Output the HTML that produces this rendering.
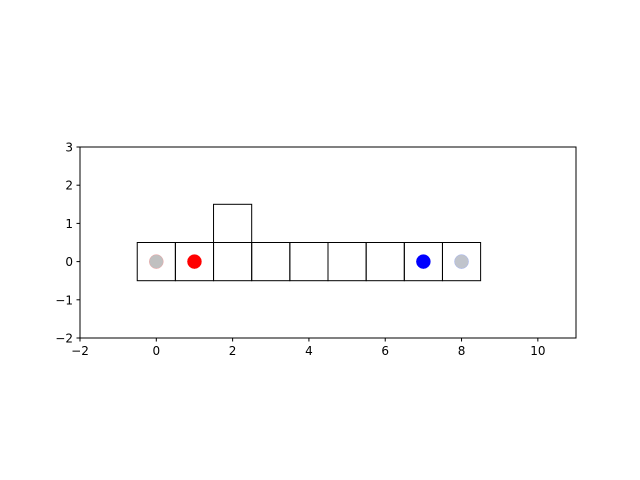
<!DOCTYPE html>
<html><head><meta charset="utf-8"><style>body{margin:0;background:#fff}svg{display:block;font-family:"DejaVu Sans","Liberation Sans",sans-serif}</style></head>
<body>
<svg id="chart" width="640" height="480" xmlns="http://www.w3.org/2000/svg"></svg>
<script>
const cellsX = [0,1,2,3,4,5,6,7,8,2];
const cellsY = [0,0,0,0,0,0,0,0,0,1];
const pointsX = [0,1,7,8];
const pointsY = [0,0,0,0];
const pointColors = ['#c0c0c0','red','blue','#c0c4cc'];
const pointEdges = ['#f0a0a0','red','blue','#a0b0f0'];
const xTicks = [-2,0,2,4,6,8,10];
const yTicks = [-2,-1,0,1,2,3];
const L=80,R=576,T=147,B=338,x0=-2,x1=11,y0=-2,y1=3;
const sx=v=>L+(v-x0)/(x1-x0)*(R-L);
const sy=v=>B-(v-y0)/(y1-y0)*(B-T);
const svg=document.getElementById('chart');
const NS='http://www.w3.org/2000/svg';
function mk(t,a){const e=document.createElementNS(NS,t);for(const k in a)e.setAttribute(k,a[k]);svg.appendChild(e);return e;}
for(let i=0;i<cellsX.length;i++){
  const r=mk('rect',{x:sx(cellsX[i]-0.5),y:sy(cellsY[i]+0.5),width:sx(1)-sx(0),height:sy(0)-sy(1),fill:'none',stroke:'#000','stroke-width':1});
  
  
}
for(let i=0;i<pointsX.length;i++){
  const c=mk('circle',{cx:sx(pointsX[i]),cy:sy(pointsY[i]),r:7,fill:pointColors[i],stroke:pointEdges[i],'stroke-width':0.5});
  
  
}
const f=mk('rect',{x:L,y:T,width:R-L,height:B-T,fill:'none',stroke:'#000','stroke-width':1});


xTicks.forEach(v=>{
  mk('line',{x1:sx(v),x2:sx(v),y1:B,y2:B+3.5,stroke:'#000'});
  const t=mk('text',{x:sx(v),y:B+17,'text-anchor':'middle','font-size':12});
  t.textContent=v<0?'\u2212'+(-v):v;
  
  
});
yTicks.forEach(v=>{
  mk('line',{x1:L-3.5,x2:L,y1:sy(v),y2:sy(v),stroke:'#000'});
  const t=mk('text',{x:L-7,y:sy(v)+4.5,'text-anchor':'end','font-size':12});
  t.textContent=v<0?'\u2212'+(-v):v;
  
  
});
</script>
</body></html>
